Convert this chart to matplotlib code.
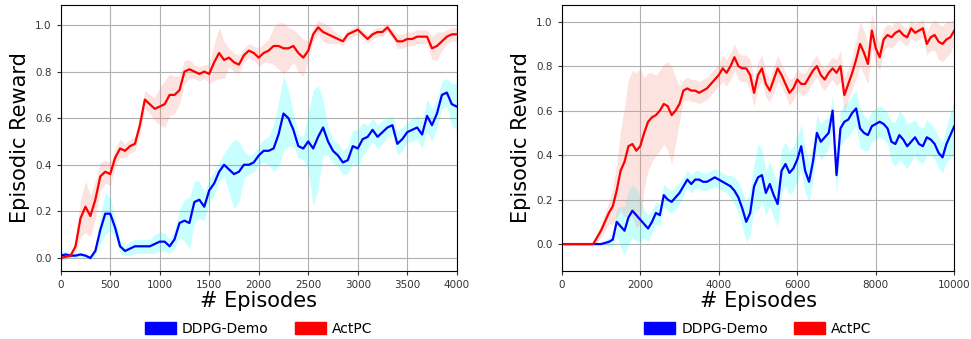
import numpy as np
import matplotlib
matplotlib.use('Agg')
import matplotlib.pyplot as plt
from matplotlib.patches import Patch

# ---- left panel: episodes 0..4000, sampled every 50 ----
ep_left = np.arange(0, 4001, 50)
actpc_left = [
    0.00, 0.005, 0.01, 0.05, 0.17, 0.22, 0.18, 0.25, 0.35, 0.37,
    0.36, 0.43, 0.47, 0.46, 0.48, 0.49, 0.57, 0.68, 0.66, 0.64,
    0.65, 0.66, 0.70, 0.70, 0.72, 0.80, 0.81, 0.80, 0.79, 0.80,
    0.79, 0.84, 0.88, 0.85, 0.86, 0.84, 0.83, 0.87, 0.89, 0.88,
    0.86, 0.88, 0.89, 0.91, 0.91, 0.90, 0.90, 0.91, 0.88, 0.86,
    0.89, 0.96, 0.99, 0.97, 0.96, 0.95, 0.94, 0.93, 0.96, 0.97,
    0.98, 0.96, 0.94, 0.96, 0.97, 0.97, 0.99, 0.96, 0.93, 0.93,
    0.94, 0.94, 0.95, 0.95, 0.95, 0.90, 0.91, 0.93, 0.95, 0.96,
    0.96]
actpc_left_sd = [
    0.01, 0.01, 0.01, 0.03, 0.08, 0.11, 0.09, 0.08, 0.06, 0.05,
    0.05, 0.04, 0.04, 0.03, 0.03, 0.03, 0.04, 0.04, 0.04, 0.05,
    0.08, 0.10, 0.09, 0.08, 0.06, 0.05, 0.04, 0.03, 0.03, 0.03,
    0.04, 0.08, 0.11, 0.08, 0.04, 0.04, 0.04, 0.03, 0.03, 0.03,
    0.04, 0.04, 0.05, 0.08, 0.10, 0.11, 0.09, 0.07, 0.08, 0.08,
    0.04, 0.03, 0.03, 0.04, 0.04, 0.03, 0.02, 0.02, 0.02, 0.02,
    0.02, 0.02, 0.02, 0.02, 0.02, 0.02, 0.02, 0.02, 0.03, 0.03,
    0.03, 0.03, 0.03, 0.03, 0.03, 0.05, 0.06, 0.04, 0.03, 0.03,
    0.03]
ddpg_left = [
    0.01, 0.015, 0.01, 0.01, 0.015, 0.01, 0.00, 0.03, 0.12, 0.19,
    0.19, 0.13, 0.05, 0.03, 0.04, 0.05, 0.05, 0.05, 0.05, 0.06,
    0.07, 0.07, 0.05, 0.08, 0.15, 0.16, 0.15, 0.24, 0.25, 0.22,
    0.29, 0.32, 0.37, 0.40, 0.38, 0.36, 0.37, 0.40, 0.40, 0.41,
    0.44, 0.46, 0.46, 0.47, 0.53, 0.62, 0.60, 0.55, 0.48, 0.47,
    0.50, 0.47, 0.52, 0.56, 0.50, 0.46, 0.44, 0.41, 0.42, 0.48,
    0.47, 0.51, 0.52, 0.55, 0.52, 0.54, 0.56, 0.57, 0.49, 0.51,
    0.54, 0.55, 0.56, 0.53, 0.61, 0.57, 0.62, 0.70, 0.71, 0.66,
    0.65]
ddpg_left_sd = [
    0.02, 0.015, 0.01, 0.01, 0.01, 0.01, 0.01, 0.02, 0.06, 0.09,
    0.07, 0.04, 0.03, 0.02, 0.03, 0.03, 0.03, 0.03, 0.03, 0.04,
    0.04, 0.04, 0.03, 0.04, 0.06, 0.09, 0.11, 0.09, 0.08, 0.06,
    0.05, 0.05, 0.04, 0.05, 0.10, 0.15, 0.13, 0.06, 0.04, 0.04,
    0.04, 0.05, 0.06, 0.10, 0.14, 0.16, 0.12, 0.07, 0.05, 0.05,
    0.12, 0.25, 0.22, 0.12, 0.06, 0.05, 0.05, 0.05, 0.06, 0.07,
    0.08, 0.07, 0.05, 0.05, 0.05, 0.05, 0.04, 0.04, 0.05, 0.05,
    0.04, 0.05, 0.05, 0.06, 0.07, 0.07, 0.06, 0.06, 0.06, 0.09,
    0.10]

# ---- right panel: episodes 0..10000, sampled every 100 ----
ep_right = np.arange(0, 10001, 100)
actpc_right = [
    0.00, 0.00, 0.00, 0.00, 0.00, 0.00, 0.00, 0.00, 0.00, 0.03,
    0.06, 0.10, 0.14, 0.17, 0.24, 0.33, 0.37, 0.44, 0.45, 0.42,
    0.44, 0.50, 0.55, 0.57, 0.58, 0.60, 0.63, 0.62, 0.58, 0.60,
    0.63, 0.69, 0.70, 0.69, 0.69, 0.68, 0.69, 0.70, 0.72, 0.74,
    0.76, 0.79, 0.77, 0.80, 0.84, 0.80, 0.79, 0.79, 0.76, 0.68,
    0.76, 0.79, 0.72, 0.69, 0.74, 0.79, 0.76, 0.72, 0.68, 0.70,
    0.74, 0.72, 0.72, 0.75, 0.78, 0.80, 0.76, 0.74, 0.77, 0.79,
    0.77, 0.80, 0.67, 0.72, 0.77, 0.83, 0.90, 0.86, 0.81, 0.96,
    0.88, 0.84, 0.92, 0.94, 0.93, 0.95, 0.96, 0.94, 0.93, 0.97,
    0.95, 0.96, 0.97, 0.90, 0.93, 0.94, 0.91, 0.90, 0.92, 0.93,
    0.96]
actpc_right_sd = [
    0.00, 0.00, 0.00, 0.00, 0.00, 0.00, 0.00, 0.00, 0.00, 0.02,
    0.03, 0.04, 0.05, 0.08, 0.12, 0.18, 0.25, 0.30, 0.33, 0.35,
    0.35, 0.25, 0.22, 0.20, 0.18, 0.18, 0.18, 0.20, 0.22, 0.15,
    0.08, 0.05, 0.05, 0.05, 0.05, 0.05, 0.05, 0.05, 0.05, 0.05,
    0.05, 0.06, 0.06, 0.06, 0.06, 0.06, 0.06, 0.06, 0.07, 0.06,
    0.06, 0.06, 0.06, 0.05, 0.06, 0.06, 0.05, 0.05, 0.06, 0.05,
    0.05, 0.05, 0.05, 0.05, 0.05, 0.05, 0.05, 0.05, 0.05, 0.05,
    0.06, 0.07, 0.08, 0.07, 0.07, 0.09, 0.10, 0.10, 0.09, 0.08,
    0.07, 0.06, 0.05, 0.05, 0.05, 0.05, 0.04, 0.04, 0.04, 0.04,
    0.04, 0.04, 0.04, 0.05, 0.06, 0.07, 0.08, 0.08, 0.08, 0.07,
    0.05]
ddpg_right = [
    0.00, 0.00, 0.00, 0.00, 0.00, 0.00, 0.00, 0.00, 0.00, 0.00,
    0.00, 0.005, 0.01, 0.02, 0.10, 0.08, 0.06, 0.12, 0.15, 0.13,
    0.11, 0.09, 0.07, 0.10, 0.14, 0.13, 0.22, 0.20, 0.19, 0.21,
    0.23, 0.26, 0.29, 0.27, 0.29, 0.29, 0.28, 0.28, 0.29, 0.30,
    0.29, 0.28, 0.27, 0.26, 0.24, 0.21, 0.16, 0.10, 0.14, 0.26,
    0.30, 0.31, 0.23, 0.27, 0.22, 0.18, 0.33, 0.36, 0.32, 0.34,
    0.38, 0.44, 0.33, 0.28, 0.37, 0.50, 0.46, 0.48, 0.50, 0.60,
    0.31, 0.52, 0.55, 0.56, 0.59, 0.61, 0.52, 0.50, 0.49, 0.53,
    0.54, 0.55, 0.54, 0.52, 0.46, 0.45, 0.49, 0.47, 0.44, 0.46,
    0.48, 0.45, 0.44, 0.48, 0.47, 0.45, 0.41, 0.39, 0.45, 0.49,
    0.53]
ddpg_right_sd = [
    0.00, 0.00, 0.00, 0.00, 0.00, 0.00, 0.00, 0.00, 0.00, 0.00,
    0.00, 0.01, 0.02, 0.03, 0.06, 0.09, 0.11, 0.12, 0.12, 0.12,
    0.10, 0.06, 0.06, 0.05, 0.05, 0.05, 0.05, 0.05, 0.05, 0.05,
    0.05, 0.04, 0.04, 0.04, 0.04, 0.04, 0.04, 0.04, 0.04, 0.04,
    0.04, 0.04, 0.04, 0.05, 0.06, 0.07, 0.08, 0.09, 0.10, 0.10,
    0.15, 0.12, 0.10, 0.10, 0.10, 0.10, 0.10, 0.10, 0.10, 0.10,
    0.10, 0.10, 0.10, 0.09, 0.08, 0.08, 0.08, 0.08, 0.07, 0.07,
    0.09, 0.08, 0.08, 0.08, 0.08, 0.08, 0.09, 0.08, 0.07, 0.07,
    0.07, 0.07, 0.07, 0.07, 0.09, 0.10, 0.11, 0.11, 0.10, 0.09,
    0.08, 0.08, 0.08, 0.08, 0.07, 0.07, 0.07, 0.07, 0.08, 0.10,
    0.12]

labels = ['DDPG-Demo', 'ActPC']

fig = plt.figure(figsize=(9.71, 3.39), dpi=100)
ax1 = fig.add_axes([0.0625, 0.2006, 0.4079, 0.7847])
ax2 = fig.add_axes([0.5785, 0.2006, 0.4043, 0.7847])

panels = [
    (ax1, ep_left, ddpg_left, ddpg_left_sd, actpc_left, actpc_left_sd,
     (0, 4000), (-0.056, 1.086), np.arange(0, 4001, 500)),
    (ax2, ep_right, ddpg_right, ddpg_right_sd, actpc_right, actpc_right_sd,
     (0, 10000), (-0.121, 1.075), np.arange(0, 10001, 2000)),
]

for ax, ep, dm, dsd, am, asd, xl, yl, xt in panels:
    dm, dsd, am, asd = map(np.asarray, (dm, dsd, am, asd))
    ax.fill_between(ep, dm - dsd, dm + dsd, color='cyan', alpha=0.22, lw=0)
    ax.fill_between(ep, am - asd, am + asd, color='salmon', alpha=0.22, lw=0)
    ax.plot(ep, dm, color='blue', lw=1.6)
    ax.plot(ep, am, color='red', lw=1.6)
    ax.set_xlim(*xl)
    ax.set_ylim(*yl)
    ax.set_xticks(xt)
    ax.set_yticks(np.arange(0, 1.01, 0.2))
    ax.grid(True, color='#b0b0b0', lw=0.8)
    ax.set_axisbelow(True)
    ax.tick_params(labelsize=7.5, length=3, colors='#333333')
    ax.set_xlabel('# Episodes', fontsize=15, labelpad=1)
    ax.set_ylabel('Episodic Reward', fontsize=15, labelpad=4)

    handles = [Patch(color='blue'), Patch(color='red')]
    pos = ax.get_position()
    fig.legend(handles, labels, loc='center', ncol=2, frameon=False,
               bbox_to_anchor=(pos.x0 + pos.width / 2, 0.03),
               fontsize=10, handlelength=2.2, handleheight=0.9,
               handletextpad=0.45, columnspacing=1.9)

plt.savefig('out.png', dpi=100)
plt.close()
